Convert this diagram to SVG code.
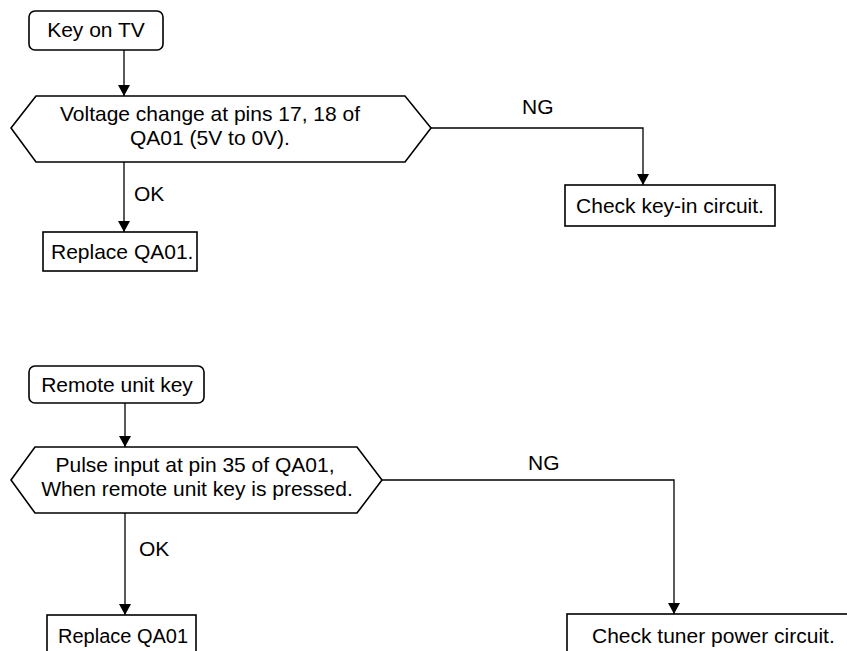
<svg xmlns="http://www.w3.org/2000/svg" width="847" height="651" viewBox="0 0 847 651">
  <defs>
    <marker id="arrow" markerUnits="userSpaceOnUse" markerWidth="13" markerHeight="12" refX="11" refY="6" orient="auto">
      <path d="M0,0 L11,6 L0,12 Z" fill="#000"/>
    </marker>
    <style>
      .box { fill: #fff; stroke: #000; stroke-width: 1.6; }
      .link { fill: none; stroke: #000; stroke-width: 1.3; marker-end: url(#arrow); }
      text { font-family: "Liberation Sans", Arial, sans-serif; font-size: 21px; fill: #000; }
      .mid { text-anchor: middle; }
    </style>
  </defs>
  <rect width="847" height="651" fill="#fff"/>

  <!-- connectors -->
  <g id="connectors">
    <line class="link" x1="124" y1="50" x2="124" y2="96"/>
    <line class="link" x1="124" y1="162" x2="124" y2="232"/>
    <path class="link" d="M431,128 H643 V185"/>
    <text x="134" y="201">OK</text>
    <text x="522" y="114">NG</text>

    <line class="link" x1="125" y1="403" x2="125" y2="447"/>
    <line class="link" x1="125" y1="513" x2="125" y2="615"/>
    <path class="link" d="M382,480 H674 V614"/>
    <text x="139" y="556">OK</text>
    <text x="528" y="470">NG</text>
  </g>

  <!-- upper flow: panel key -->
  <g id="key-on-tv">
    <rect class="box" x="29" y="11" width="134" height="39" rx="6"/>
    <text class="mid" x="96" y="37">Key on TV</text>
  </g>
  <g id="voltage-check">
    <polygon class="box" points="11,128 36,96 405,96 431,128 405,162 36,162"/>
    <text class="mid" x="210" y="121">Voltage change at pins 17, 18 of</text>
    <text class="mid" x="210" y="145">QA01 (5V to 0V).</text>
  </g>
  <g id="replace-qa01-a">
    <rect class="box" x="43" y="232" width="154" height="39"/>
    <text x="51" y="259">Replace QA01.</text>
  </g>
  <g id="check-key-in">
    <rect class="box" x="565" y="185" width="210" height="41"/>
    <text class="mid" x="670" y="213">Check key-in circuit.</text>
  </g>

  <!-- lower flow: remote unit -->
  <g id="remote-unit-key">
    <rect class="box" x="29" y="366" width="175" height="37" rx="6"/>
    <text class="mid" x="117" y="392">Remote unit key</text>
  </g>
  <g id="pulse-check">
    <polygon class="box" points="11,480 35,447 357,447 382,480 357,513 35,513"/>
    <text class="mid" x="195" y="472">Pulse input at pin 35 of QA01,</text>
    <text class="mid" x="197" y="496">When remote unit key is pressed.</text>
  </g>
  <g id="replace-qa01-b">
    <rect class="box" x="47" y="615" width="149" height="50"/>
    <text x="58" y="643" style="font-size:20px">Replace QA01</text>
  </g>
  <g id="check-tuner-power">
    <rect class="box" x="567" y="614" width="300" height="50"/>
    <text x="592" y="643">Check tuner power circuit.</text>
  </g>
</svg>
